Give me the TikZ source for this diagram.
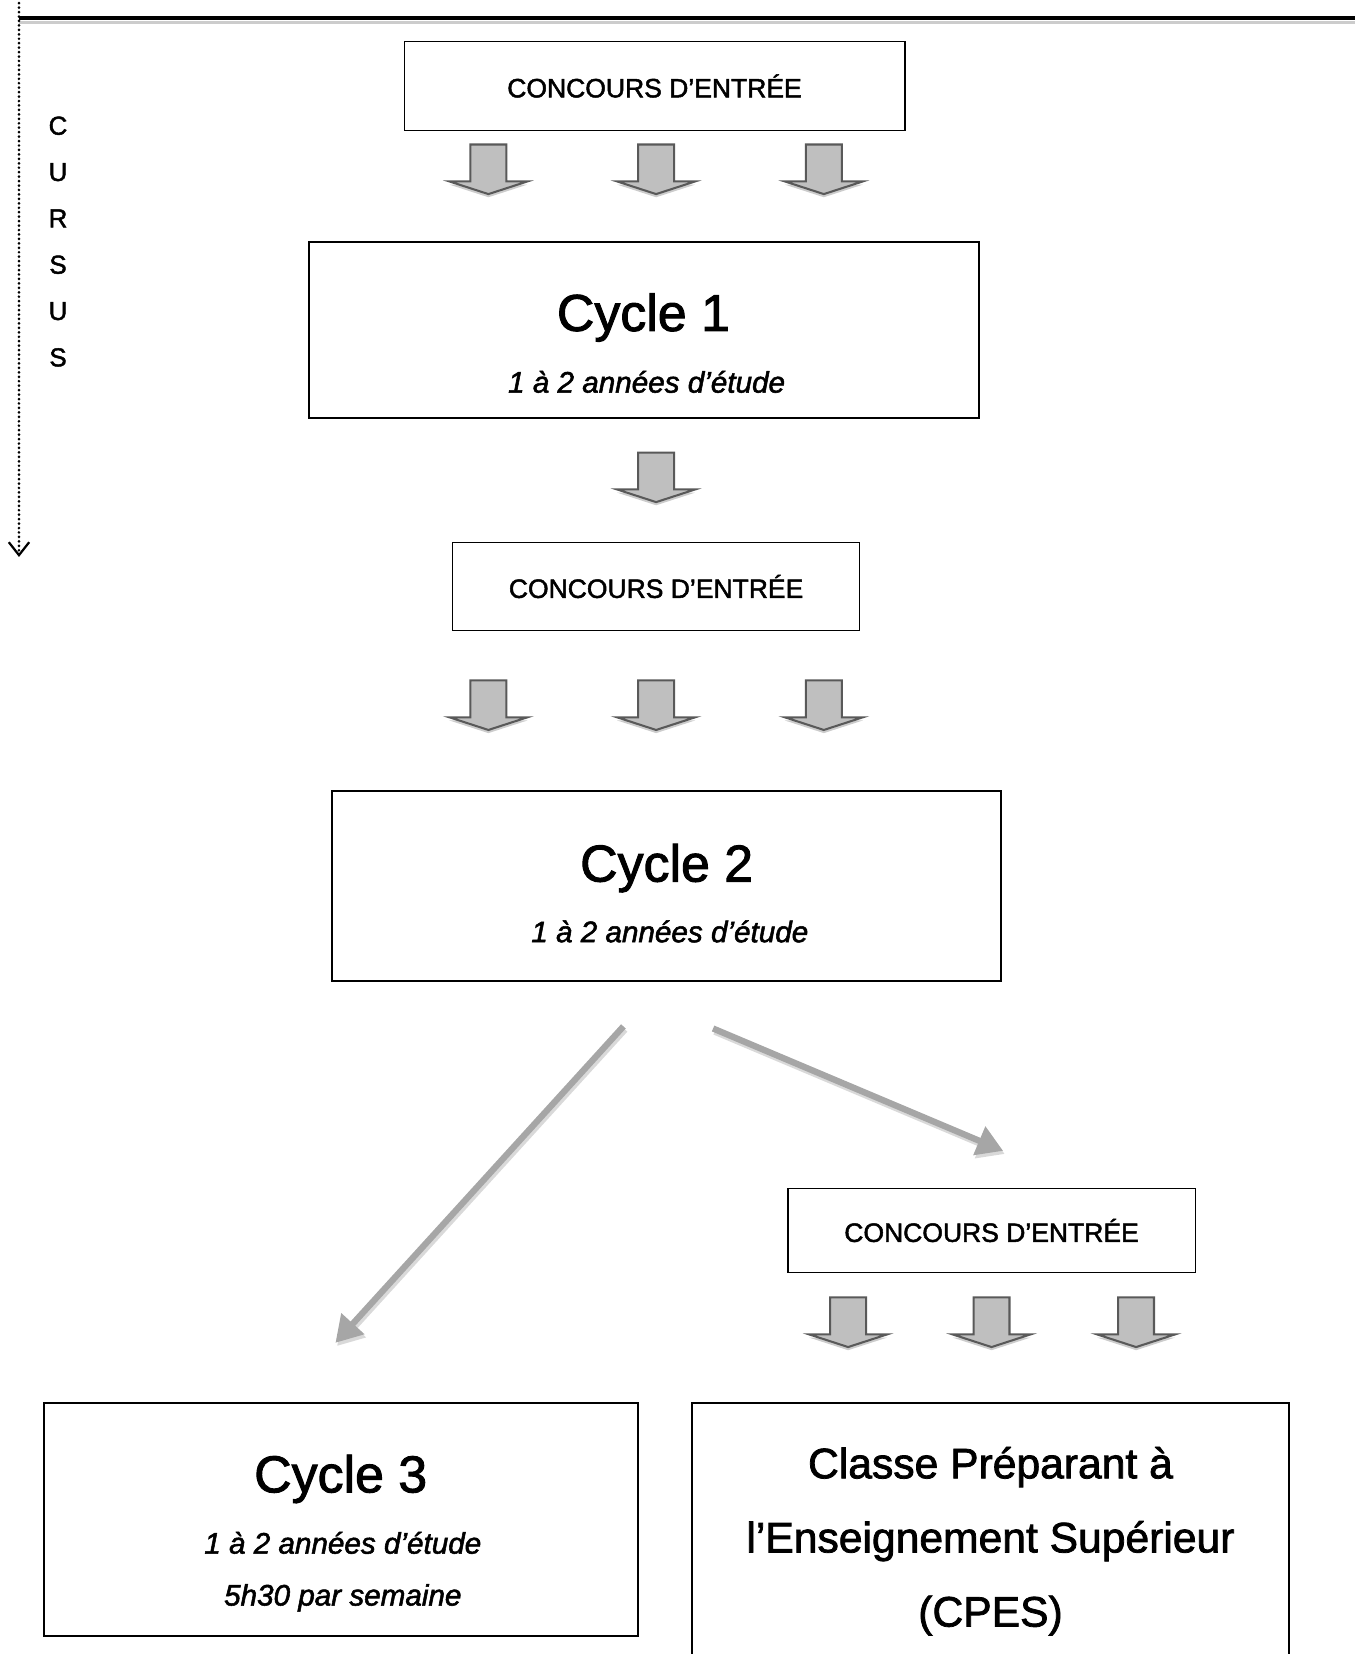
\documentclass[tikz,border=0pt]{standalone}
\usepackage{fontspec}
\setmainfont{Liberation Sans}[RawFeature = {embolden=1.8}]
\usetikzlibrary{arrows.meta}

\tikzset{
    box/.style = {draw = black, line width = 0.6pt, inner sep = 0pt},
    bigbox/.style = {draw = black, line width = 1.1pt, inner sep = 0pt},
    concours/.style = {font = \fontsize{14.3}{16}\selectfont},
    title/.style = {font = \fontsize{28}{32}\selectfont},
    years/.style = {font = \fontsize{16}{28}\selectfont\itshape, align = center},
    pics/downarrow/.style = {code = {
        \fill [black!20] (-17, 3) -- (17, 3) -- (17, 38) -- (37, 38) -- (0, 50) -- (-37, 38) -- (-17, 38) -- cycle;
        \filldraw [fill = black!25, draw = black!65, line width = 1.1pt] (-17, 0) -- (17, 0) -- (17, 35) -- (37, 35) -- (0, 47) -- (-37, 35) -- (-17, 35) -- cycle;
    }},
    diag/.style = {draw = black!35, line width = 3.4pt, -{Triangle[length = 14pt, width = 16pt]}},
    diagshadow/.style = {diag, draw = black!15, transform canvas = {shift = {(1.5, 3)}}},
}

\begin{document}
\begin{tikzpicture}[x = 0.02cm, y = -0.02cm, >= stealth]
    \useasboundingbox (0, 0) rectangle (1285, 1568);

    % rule and cursus axis
    \draw [black!20, line width = 1.7pt] (18, 21) -- (1285, 21);
    \draw [black, line width = 1.7pt] (18, 17) -- (1285, 17);
    \coordinate (axistop) at (18, 3);
    \coordinate (axisend) at (18, 528);
    \draw [line width = 1.6pt, line cap = round, dash pattern = on 0pt off 2.4pt, -{Straight Barb[length = 7pt, width = 11pt, line width = 1.2pt, line cap = butt]}] (axistop) -- (axisend);
    \node [font = \fontsize{14}{25}\selectfont, align = center] (cursus) at (55, 229) {C\\U\\R\\S\\U\\S};

    %%%%%%%%%%%%%%%%%%%%
    \node [box, concours, minimum width = 9.5cm, minimum height = 1.7cm] (entree1) at (620.5, 81.5) {CONCOURS D’ENTRÉE};
    \foreach \x in {463, 622, 781} \pic at (\x, 137) {downarrow};

    \node [bigbox, minimum width = 12.7cm, minimum height = 3.34cm] (cycle1) at (610.5, 312.5) {};
    \node [title] (cycle1title) at (610, 301) {Cycle 1};
    \node [years] (cycle1years) at (613, 362) {1 à 2 années d’étude};
    \pic at (622, 429) {downarrow};

    %%%%%%%%%%%%%%%%%%%%
    \node [box, concours, minimum width = 7.72cm, minimum height = 1.68cm] (entree2) at (622, 556) {CONCOURS D’ENTRÉE};
    \foreach \x in {463, 622, 781} \pic at (\x, 645) {downarrow};

    \node [bigbox, minimum width = 12.68cm, minimum height = 3.6cm] (cycle2) at (632, 840) {};
    \node [title] (cycle2title) at (632, 823) {Cycle 2};
    \node [years] (cycle2years) at (635, 883) {1 à 2 années d’étude};

    % split after cycle 2
    \coordinate (tocycle3) at (591, 973);
    \coordinate (cycle3in) at (318, 1273);
    \coordinate (toentree3) at (676, 975);
    \coordinate (entree3in) at (951, 1091);
    \draw [diagshadow] (tocycle3) -- (cycle3in);
    \draw [diag] (tocycle3) -- (cycle3in);
    \draw [diagshadow] (toentree3) -- (entree3in);
    \draw [diag] (toentree3) -- (entree3in);

    %%%%%%%%%%%%%%%%%%%%
    \node [box, concours, minimum width = 7.72cm, minimum height = 1.58cm] (entree3) at (940, 1166.5) {CONCOURS D’ENTRÉE};
    \foreach \x in {804, 940, 1077} \pic at (\x, 1230) {downarrow};

    \node [bigbox, minimum width = 11.26cm, minimum height = 4.42cm] (cycle3) at (323.5, 1440.5) {};
    \node [title] (cycle3title) at (323, 1402) {Cycle 3};
    \node [years] (cycle3years) at (325, 1490) {1 à 2 années d’étude\\5h30 par semaine};

    \node [bigbox, minimum width = 11.32cm, minimum height = 5.8cm] (cpes) at (939, 1475) {};
    \node [font = \fontsize{23}{40}\selectfont, align = center] (cpestext) at (939, 1461) {Classe Préparant à\\l’Enseignement Supérieur\\(CPES)};
\end{tikzpicture}
\end{document}
